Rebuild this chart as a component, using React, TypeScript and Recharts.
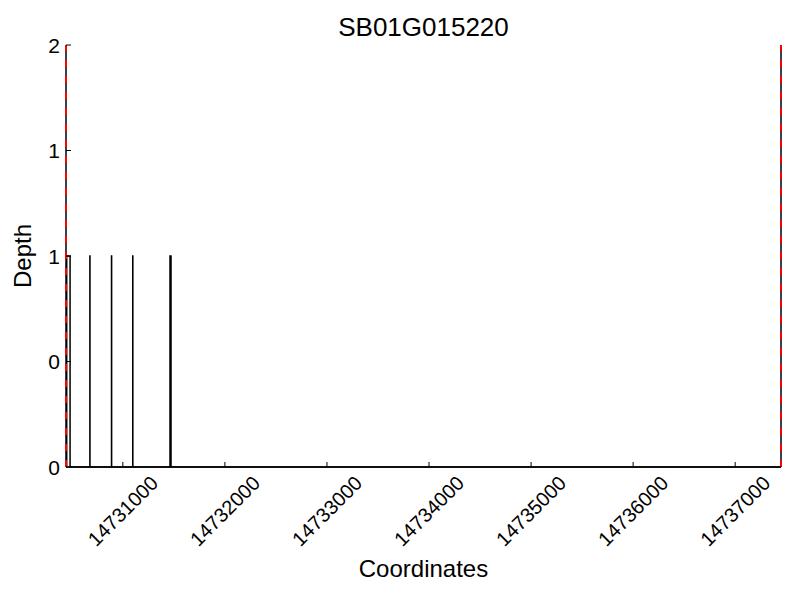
import React from "react";
import {
  LineChart,
  Line,
  XAxis,
  YAxis,
  ReferenceLine,
  Label,
} from "recharts";

// gene bounds (red dashed lines) and plot domain
const geneStart = 14730443;
const geneEnd = 14737449;

// depth spikes
const spikeStarts = [14730450, 14730677, 14730889, 14731097, 14731462];
const spikeEnds = [14730483, 14730678, 14730890, 14731098, 14731472];
const spikeDepths = [1, 1, 1, 1, 1];

const xTicks = [14731000, 14732000, 14733000, 14734000, 14735000, 14736000, 14737000];
const yTicks = [0, 0.5, 1, 1.5, 2];

const FONT = "'Liberation Sans', Arial, sans-serif";

type TPoint = { pos: number; depth: number };

const buildProfile = (): TPoint[] => {
  const pts: TPoint[] = [{ pos: geneStart, depth: 0 }];
  spikeStarts.forEach((s, i) => {
    pts.push({ pos: s, depth: 0 });
    pts.push({ pos: s, depth: spikeDepths[i] });
    pts.push({ pos: spikeEnds[i], depth: spikeDepths[i] });
    pts.push({ pos: spikeEnds[i], depth: 0 });
  });
  pts.push({ pos: geneEnd, depth: 0 });
  return pts;
};

const data = buildProfile();

const XTick = (props: any) => {
  const { x, y, payload } = props;
  return (
    <g>
      <line x1={x} y1={y} x2={x} y2={y - 5} stroke="#000" strokeWidth={1} />
      <text
        x={x}
        y={y + 44}
        transform={`rotate(-45, ${x}, ${y + 44})`}
        textAnchor="middle"
        dominantBaseline="central"
        fontFamily={FONT}
        fontSize={20}
        fill="#000"
      >
        {payload.value}
      </text>
    </g>
  );
};

const YTick = (props: any) => {
  const { x, y, payload } = props;
  return (
    <g>
      <line x1={x} y1={y} x2={x + 5} y2={y} stroke="#000" strokeWidth={1} />
      <text
        x={x - 6}
        y={y}
        textAnchor="end"
        dominantBaseline="central"
        fontFamily={FONT}
        fontSize={21}
        fill="#000"
      >
        {Math.floor(payload.value)}
      </text>
    </g>
  );
};

const App = () => {
  return (
    <div style={{ position: "absolute", left: 0, top: 0, width: 800, height: 600, background: "#fff" }}>
      <div
        style={{
          position: "absolute",
          left: 66,
          width: 715,
          top: 12,
          textAlign: "center",
          fontFamily: FONT,
          fontSize: 26,
          lineHeight: "30px",
          color: "#000",
        }}
      >
        SB01G015220
      </div>
      <LineChart
        width={800}
        height={600}
        data={data}
        margin={{ top: 45, right: 19, left: 0, bottom: 0 }}
      >
        <XAxis
          dataKey="pos"
          type="number"
          domain={[geneStart, geneEnd]}
          ticks={xTicks}
          allowDataOverflow
          height={133}
          tickSize={0}
          tickMargin={0}
          tickLine={false}
          tick={<XTick />}
          axisLine={{ stroke: "#000", strokeWidth: 1.5 }}
          interval={0}
        >
          <Label
            value="Coordinates"
            position="insideBottom"
            offset={23}
            style={{ fontFamily: FONT, fontSize: 24, fill: "#000" }}
          />
        </XAxis>
        <YAxis
          type="number"
          domain={[0, 2]}
          ticks={yTicks}
          width={66}
          tickSize={0}
          tickMargin={0}
          tickLine={false}
          tick={<YTick />}
          axisLine={false}
          interval={0}
        >
          <Label
            content={(p: any) => {
              const vb = p.viewBox;
              const cy = vb.y + vb.height / 2;
              return (
                <text
                  x={31}
                  y={cy}
                  transform={`rotate(-90, 31, ${cy})`}
                  textAnchor="middle"
                  fontFamily={FONT}
                  fontSize={24}
                  fill="#000"
                >
                  Depth
                </text>
              );
            }}
          />
        </YAxis>
        <ReferenceLine x={geneStart} stroke="#000" strokeWidth={1.5} />
        <ReferenceLine x={geneEnd} stroke="#000" strokeWidth={1.5} />
        <Line
          type="linear"
          dataKey="depth"
          stroke="#000"
          strokeWidth={1.5}
          dot={false}
          isAnimationActive={false}
        />
        <ReferenceLine x={geneStart} stroke="#ff0000" strokeWidth={2} strokeDasharray="7 9" />
        <ReferenceLine x={geneEnd} stroke="#ff0000" strokeWidth={2} strokeDasharray="7 9" />
      </LineChart>
    </div>
  );
};

export default App;
